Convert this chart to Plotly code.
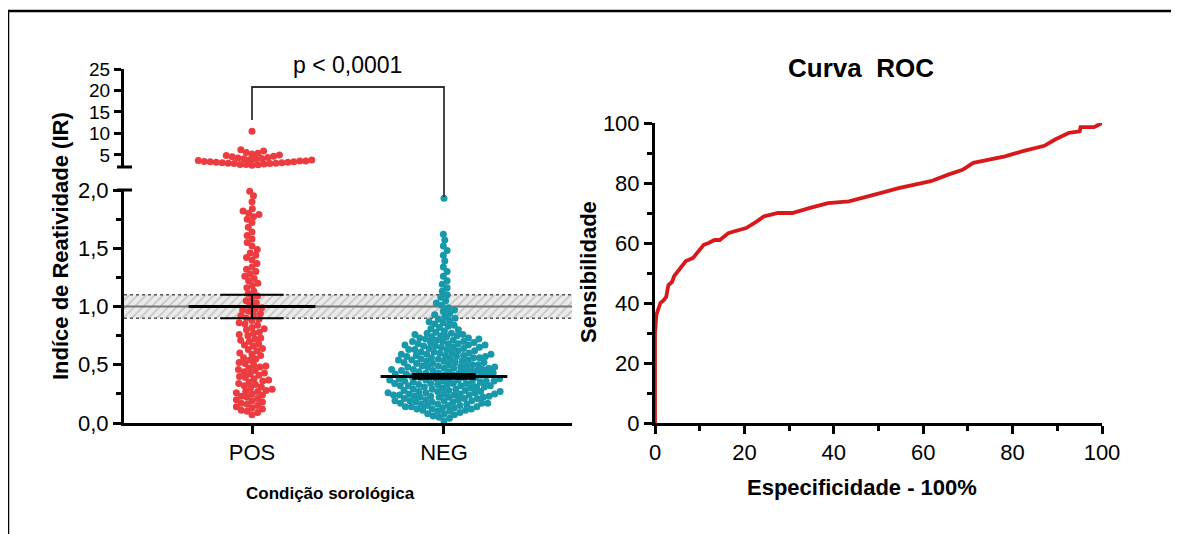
import math
import plotly.graph_objects as go

# ---------------- data ----------------
CATEGORIES = ["POS", "NEG"]

POS_HIGH = [2.6, 2.7, 2.8, 2.8, 2.9, 3.0, 3.0, 3.1, 3.1, 3.2, 3.2, 3.3, 3.3, 3.4, 3.4, 3.5,
            3.6, 3.6, 3.7, 3.8, 3.9, 4.0, 4.1, 4.2, 4.3, 4.4, 4.6, 4.7, 4.9, 5.0, 5.2, 5.4,
            5.6, 5.9, 6.2, 10.5]

POS_LOW = [0.07, 0.09, 0.10, 0.11, 0.12, 0.13, 0.14, 0.15, 0.16, 0.17, 0.18, 0.19, 0.20,
           0.21, 0.22, 0.23, 0.24, 0.25, 0.26, 0.27, 0.27, 0.28, 0.29, 0.30, 0.31, 0.32, 0.33,
           0.34, 0.35, 0.36, 0.37, 0.38, 0.39, 0.40, 0.41, 0.42, 0.43, 0.44, 0.45, 0.46, 0.47,
           0.48, 0.49, 0.50,
           0.51, 0.52, 0.54, 0.55, 0.56, 0.58, 0.59, 0.60, 0.62, 0.63, 0.64, 0.66, 0.67, 0.68,
           0.70, 0.71, 0.72, 0.73, 0.75, 0.76, 0.77, 0.78, 0.80, 0.81, 0.82, 0.84, 0.85, 0.86,
           0.88, 0.89, 0.90, 0.92, 0.93, 0.94, 0.96, 0.97, 0.98, 0.99,
           1.01, 1.03, 1.05, 1.07, 1.09, 1.11, 1.13, 1.16, 1.18, 1.20, 1.22, 1.24, 1.26, 1.28,
           1.30, 1.32, 1.34, 1.37, 1.40, 1.42, 1.44, 1.46, 1.49,
           1.52, 1.55, 1.58, 1.61, 1.64, 1.68, 1.72, 1.75, 1.77, 1.79, 1.80, 1.82, 1.84, 1.90,
           1.95, 1.99]

NEG = [0.02, 0.04, 0.05, 0.06, 0.07, 0.08, 0.08, 0.09, 0.10,
       0.10, 0.11, 0.11, 0.12, 0.12, 0.12, 0.13, 0.13, 0.14, 0.14, 0.14, 0.15, 0.15, 0.15,
       0.16, 0.16, 0.16, 0.17, 0.17, 0.17, 0.18, 0.18, 0.18, 0.19, 0.19, 0.19, 0.19, 0.20, 0.20,
       0.21, 0.21, 0.21, 0.22, 0.22, 0.22, 0.22, 0.23, 0.23, 0.23, 0.24, 0.24, 0.24, 0.24,
       0.25, 0.25, 0.25, 0.25, 0.26, 0.26, 0.26, 0.27, 0.27, 0.27, 0.27, 0.28, 0.28, 0.28,
       0.29, 0.29, 0.29, 0.30, 0.30,
       0.31, 0.31, 0.31, 0.32, 0.32, 0.32, 0.32, 0.33, 0.33, 0.33, 0.34, 0.34, 0.34, 0.34,
       0.35, 0.35, 0.35, 0.36, 0.36, 0.36, 0.36, 0.37, 0.37, 0.37, 0.38, 0.38, 0.38, 0.38,
       0.39, 0.39, 0.39, 0.40, 0.40, 0.40,
       0.41, 0.41, 0.41, 0.42, 0.42, 0.42, 0.43, 0.43, 0.43, 0.43, 0.44, 0.44, 0.44, 0.45,
       0.45, 0.45, 0.45, 0.46, 0.46, 0.46, 0.47, 0.47, 0.47, 0.48, 0.48, 0.48, 0.48, 0.49,
       0.49, 0.49, 0.50, 0.50, 0.50,
       0.51, 0.51, 0.52, 0.52, 0.52, 0.53, 0.53, 0.53, 0.54, 0.54, 0.54, 0.55, 0.55, 0.55,
       0.56, 0.56, 0.56, 0.57, 0.57, 0.57, 0.58, 0.58, 0.58, 0.59, 0.59, 0.59, 0.60, 0.60, 0.60,
       0.61, 0.61, 0.62, 0.62, 0.63, 0.63, 0.63, 0.64, 0.64, 0.65, 0.65, 0.65, 0.66, 0.66,
       0.67, 0.67, 0.67, 0.68, 0.68, 0.68, 0.69, 0.69, 0.70, 0.70, 0.70,
       0.71, 0.71, 0.72, 0.72, 0.73, 0.73, 0.74, 0.74, 0.75, 0.75, 0.76, 0.76, 0.77, 0.77,
       0.78, 0.79, 0.80,
       0.81, 0.82, 0.83, 0.84, 0.85, 0.86, 0.87, 0.88, 0.89, 0.90,
       0.91, 0.93, 0.94, 0.96, 0.97, 0.99,
       1.01, 1.03, 1.05, 1.08, 1.10, 1.13, 1.16, 1.19,
       1.22, 1.26, 1.30, 1.34, 1.39, 1.44,
       1.48, 1.52, 1.57, 1.62, 1.93]

# summary lines (centre value, error)
GROUP_CENTER = [1.00, 0.40]
GROUP_ERR = [0.10, 0.02]

# grey zone
GREY_ZONE = [0.9, 1.0, 1.1]

LOW_TICKS = [0, 0.5, 1.0, 1.5, 2.0]
LOW_TICKTEXT = ["0,0", "0,5", "1,0", "1,5", "2,0"]
HIGH_TICKS = [5, 10, 15, 20, 25]

ROC_X = [0, 0, 0.3, 0.7, 1.2, 2.0, 2.5, 3.0, 3.8, 4.3, 5.3, 6.0, 6.9, 8.5, 9.5, 10.9, 12.0,
         13.3, 14.5, 16.4, 18.0, 20.4, 22.8, 24.4, 27.5, 30.7, 34.7, 38.7, 43.4, 46.6, 50.6,
         54.5, 58.5, 61.7, 65.6, 68.8, 71.2, 74.4, 78.3, 82.3, 87.1, 89.4, 92.6, 95.0, 95.2,
         98.2, 100]
ROC_Y = [0, 30, 36, 38, 40, 41, 42, 46, 47, 49, 51, 52, 54, 55, 57, 59.4, 60, 61, 61, 63.3,
         64, 65, 67.2, 68.9, 70, 70, 71.7, 73.3, 73.9, 75, 76.7, 78.3, 79.4, 80.6, 82.8, 84.4,
         86.7, 87.8, 88.9, 90.6, 92.4, 94.4, 96.7, 97.2, 98.6, 98.6, 100]

# ---------------- layout geometry ----------------
W, H = 1179, 534
OFF = 8  # page body margin offset
FONT = "Liberation Sans, Arial, sans-serif"
RED = "#ec3c40"
TEAL = "#1898ab"


def px(x):
    return (x - OFF) / W


def py(y):
    return 1 - (y - OFF) / H


X_RANGE = [-0.667, 1.667]
LEFT_DOM = [px(124), px(572)]
LOW_DOM = [py(423), py(190)]
HIGH_DOM = [py(167), py(69)]
HIGH_RANGE = [2.2, 25]
ROC_XDOM = [px(655), px(1102)]
ROC_YDOM = [py(423), py(123)]

X_PX_PER_UNIT = (572 - 124) / (X_RANGE[1] - X_RANGE[0])
LOW_PX_PER_UNIT = (423 - 190) / 2.0
HIGH_PX_PER_UNIT = (167 - 69) / (HIGH_RANGE[1] - HIGH_RANGE[0])


def swarm(values, y_scale, d=6.0):
    """beeswarm offsets (category units) computed in pixel space"""
    order = sorted(range(len(values)), key=lambda i: values[i])
    placed = []
    offs = [0.0] * len(values)
    flip = 1
    for i in order:
        y = values[i] * y_scale
        near = [(a, b) for a, b in placed if abs(b - y) < d]
        cands = [0.0]
        for a, b in near:
            dx = math.sqrt(max(d * d - (b - y) ** 2, 0))
            cands += [a + dx, a - dx]
        cands.sort(key=lambda c: (round(abs(c), 6), flip * c))
        chosen = 0.0
        for c in cands:
            if all((c - a) ** 2 + (y - b) ** 2 >= d * d - 1e-6 for a, b in near):
                chosen = c
                break
        flip = -flip
        placed.append((chosen, y))
        offs[i] = chosen / X_PX_PER_UNIT
    return offs


fig = go.Figure()

# grey zone band (hatched)
fig.add_trace(go.Scatter(
    x=[X_RANGE[0], X_RANGE[1], X_RANGE[1], X_RANGE[0], X_RANGE[0]],
    y=[GREY_ZONE[0], GREY_ZONE[0], GREY_ZONE[2], GREY_ZONE[2], GREY_ZONE[0]],
    fill="toself", mode="lines", line=dict(width=0),
    fillcolor="#e6e6e6",
    fillpattern=dict(shape="/", fgcolor="#a0a0a0", bgcolor="#ebebeb", size=6, solidity=0.3),
    xaxis="x", yaxis="y", hoverinfo="skip", showlegend=False))
for v, dash, col, wd in [(GREY_ZONE[0], "dot", "#555555", 1.5),
                         (GREY_ZONE[2], "dot", "#555555", 1.5),
                         (GREY_ZONE[1], "solid", "#777777", 2)]:
    fig.add_trace(go.Scatter(x=X_RANGE, y=[v, v], mode="lines",
                             line=dict(color=col, width=wd, dash=dash),
                             xaxis="x", yaxis="y", hoverinfo="skip", showlegend=False))

# points
pos_low_off = swarm(POS_LOW, LOW_PX_PER_UNIT)
neg_off = swarm(NEG, LOW_PX_PER_UNIT)
pos_high_off = swarm(POS_HIGH, HIGH_PX_PER_UNIT)

marker_pos = dict(color=RED, size=7, line=dict(width=0))
marker_neg = dict(color=TEAL, size=7, line=dict(width=0))
fig.add_trace(go.Scatter(x=[0 + o for o in pos_low_off], y=POS_LOW, mode="markers",
                         marker=marker_pos, xaxis="x", yaxis="y", cliponaxis=False,
                         showlegend=False, name="POS"))
fig.add_trace(go.Scatter(x=[0 + o for o in pos_high_off], y=POS_HIGH, mode="markers",
                         marker=marker_pos, xaxis="x", yaxis="y3", cliponaxis=False,
                         showlegend=False, name="POS"))
fig.add_trace(go.Scatter(x=[1 + o for o in neg_off], y=NEG, mode="markers",
                         marker=marker_neg, xaxis="x", yaxis="y", cliponaxis=False,
                         showlegend=False, name="NEG"))

# ROC curve
fig.add_trace(go.Scatter(x=ROC_X, y=ROC_Y, mode="lines",
                         line=dict(color="#d7191c", width=3.8),
                         xaxis="x2", yaxis="y2", cliponaxis=False, showlegend=False))

shapes = []
# mean / error bars
for i, (c, e) in enumerate(zip(GROUP_CENTER, GROUP_ERR)):
    shapes.append(dict(type="line", xref="x", yref="y", x0=i - 0.33, x1=i + 0.33, y0=c, y1=c,
                       line=dict(color="black", width=3)))
    for v in (c - e, c + e):
        shapes.append(dict(type="line", xref="x", yref="y", x0=i - 0.165, x1=i + 0.165,
                           y0=v, y1=v, line=dict(color="black", width=2)))
    shapes.append(dict(type="line", xref="x", yref="y", x0=i, x1=i, y0=c - e, y1=c + e,
                       line=dict(color="black", width=2)))

# axis break caps
for ycap in (167, 190):
    shapes.append(dict(type="line", xref="paper", yref="paper", x0=px(117), x1=px(132),
                       y0=py(ycap), y1=py(ycap), line=dict(color="black", width=3)))

# significance bracket
shapes.append(dict(type="path", xref="paper", yref="paper",
                   path=f"M {px(252)} {py(120)} L {px(252)} {py(87)} L {px(444)} {py(87)} L {px(444)} {py(197)}",
                   line=dict(color="#333333", width=1.8)))

# outer frame (top and left edges)
shapes.append(dict(type="line", xref="paper", yref="paper", x0=px(8), x1=1.0, y0=py(11), y1=py(11),
                   line=dict(color="black", width=2.5)))
shapes.append(dict(type="line", xref="paper", yref="paper", x0=px(8), x1=px(8), y0=py(11), y1=0,
                   line=dict(color="black", width=2.5)))


def ann(text, x, y, size, angle=0):
    return dict(text=text, x=px(x), y=py(y), xref="paper", yref="paper",
                xanchor="center", yanchor="middle", textangle=angle, showarrow=False,
                font=dict(size=size, color="black", family=FONT))


annotations = [
    ann("p < 0,0001", 347, 65, 23),
    ann("<b>Indíce de Reatividade (IR)</b>", 60, 246, 22, -90),
    ann("<b>Condição sorológica</b>", 330, 493, 17),
    ann("<b>Curva\u00a0 ROC</b>", 861, 68, 26),
    ann("<b>Sensibilidade</b>", 588, 272, 22, -90),
    ann("<b>Especificidade - 100%</b>", 862, 487, 22),
]

axis_common = dict(showline=True, linewidth=3, linecolor="black", ticks="outside",
                   tickwidth=3, ticklen=8, tickcolor="black", showgrid=False, zeroline=False,
                   tickfont=dict(size=22, color="black", family=FONT), fixedrange=True,
                   automargin=False)
upper_axis = {**axis_common, "tickfont": dict(size=19, color="black", family=FONT),
              "ticklen": 7}

fig.update_layout(
    width=W, height=H, margin=dict(l=0, r=0, t=0, b=0, pad=0, autoexpand=False),
    paper_bgcolor="white", plot_bgcolor="rgba(0,0,0,0)",
    showlegend=False,
    xaxis=dict(domain=LEFT_DOM, range=X_RANGE, anchor="y", tickvals=[0, 1],
               ticktext=CATEGORIES, **axis_common),
    yaxis=dict(domain=LOW_DOM, range=[0, 2.0], anchor="x", tickvals=LOW_TICKS,
               ticktext=LOW_TICKTEXT,
               minor=dict(ticks="outside", tickvals=[0.25, 0.75, 1.25, 1.75], ticklen=5,
                          tickwidth=2.5, tickcolor="black"),
               **axis_common),
    yaxis3=dict(domain=HIGH_DOM, range=HIGH_RANGE, anchor="x", tickvals=HIGH_TICKS,
                **upper_axis),
    xaxis2=dict(domain=ROC_XDOM, range=[0, 100], anchor="y2", tickvals=[0, 20, 40, 60, 80, 100],
                minor=dict(ticks="outside", tickvals=[10, 30, 50, 70, 90], ticklen=5,
                           tickwidth=2.5, tickcolor="black"),
                **axis_common),
    yaxis2=dict(domain=ROC_YDOM, range=[0, 100], anchor="x2", tickvals=[0, 20, 40, 60, 80, 100],
                minor=dict(ticks="outside", tickvals=[10, 30, 50, 70, 90], ticklen=5,
                           tickwidth=2.5, tickcolor="black"),
                **axis_common),
    shapes=shapes,
    annotations=annotations,
)

fig.write_html("out.html")
